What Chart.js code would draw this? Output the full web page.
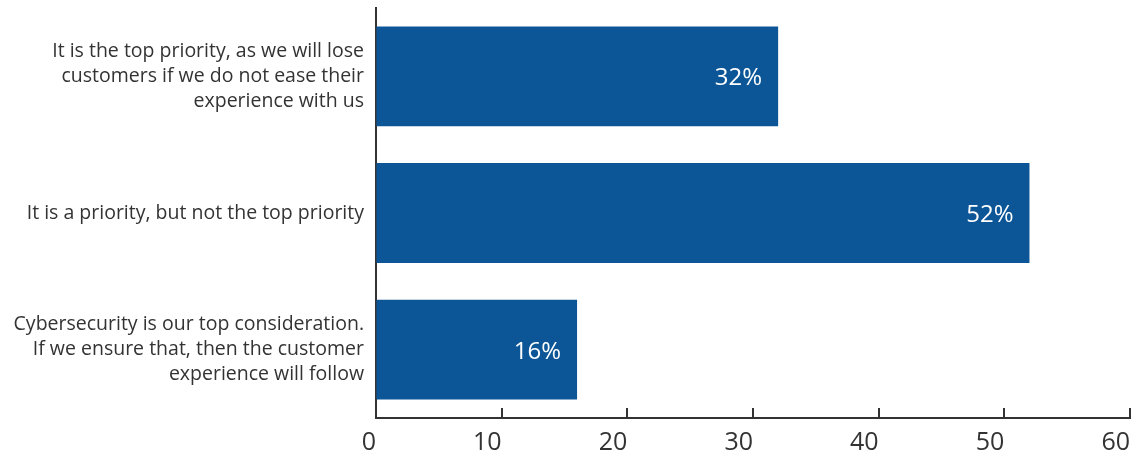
<!DOCTYPE html>
<html>
<head>
<meta charset="utf-8">
<script src="https://cdn.jsdelivr.net/npm/chart.js@4"></script>
<style>
  html, body { margin: 0; padding: 0; background: #fff; }
  #wrap { width: 1136px; height: 458px; }
</style>
</head>
<body>
<div id="wrap"><canvas id="bar-chart"></canvas></div>
<script>
const answers = [
  ["It is the top priority, as we will lose", "customers if we do not ease their", "experience with us"],
  ["It is a priority, but not the top priority"],
  ["Cybersecurity is our top consideration.", "If we ensure that, then the customer", "experience will follow"]
];
const shares = [32, 52, 16];
const xTicks = [0, 10, 20, 30, 40, 50, 60];

const fontName = "'Open Sans', sans-serif";
const ink = "#333333";

// percent text inside the end of each bar
const barText = {
  id: 'barText',
  afterDatasetsDraw(chart) {
    const ctx = chart.ctx;
    const meta = chart.getDatasetMeta(0);
    ctx.save();
    ctx.fillStyle = '#ffffff';
    ctx.font = "24px " + fontName;
    ctx.textAlign = 'right';
    ctx.textBaseline = 'middle';
    meta.data.forEach((bar, i) => {
      ctx.fillText(shares[i] + '%', bar.x - 16, bar.y + 2);
    });
    ctx.restore();
  }
};

// short ticks pointing up from the bottom axis
const innerTicks = {
  id: 'innerTicks',
  afterDraw(chart) {
    const ctx = chart.ctx;
    const x = chart.scales.x;
    ctx.save();
    ctx.strokeStyle = ink;
    ctx.lineWidth = 2;
    xTicks.forEach(v => {
      const px = Math.round(x.getPixelForValue(v));
      ctx.beginPath();
      ctx.moveTo(px, x.top - 10);
      ctx.lineTo(px, x.top);
      ctx.stroke();
    });
    ctx.restore();
  }
};

new Chart(document.getElementById('bar-chart'), {
  type: 'bar',
  data: {
    labels: answers,
    datasets: [{
      data: shares,
      backgroundColor: '#0c5697',
      barPercentage: 0.73,
      categoryPercentage: 1
    }]
  },
  options: {
    indexAxis: 'y',
    responsive: true,
    maintainAspectRatio: false,
    animation: false,
    layout: { padding: { top: 8, right: 6, left: 0, bottom: 0 } },
    plugins: { legend: { display: false }, tooltip: { enabled: false } },
    scales: {
      x: {
        min: 0, max: 60,
        afterBuildTicks(scale) { scale.ticks = xTicks.map(v => ({ value: v })); },
        afterFit(scale) {
          scale.height = 40;
          scale.paddingLeft = 0;
          scale.paddingRight = 0;
        },
        grid: { drawOnChartArea: false, drawTicks: false },
        border: { display: true, color: ink, width: 2 },
        ticks: { color: ink, align: 'end', font: { family: fontName, size: 25 }, padding: 10 }
      },
      y: {
        afterFit(scale) {
          scale.width = 376;
          scale.paddingTop = 0;
          scale.paddingBottom = 0;
        },
        grid: { drawOnChartArea: false, drawTicks: false },
        border: { display: true, color: ink, width: 2 },
        ticks: { color: ink, font: { family: fontName, size: 19.5, lineHeight: 1.28 }, padding: 12 }
      }
    }
  },
  plugins: [barText, innerTicks]
});
</script>
</body>
</html>
